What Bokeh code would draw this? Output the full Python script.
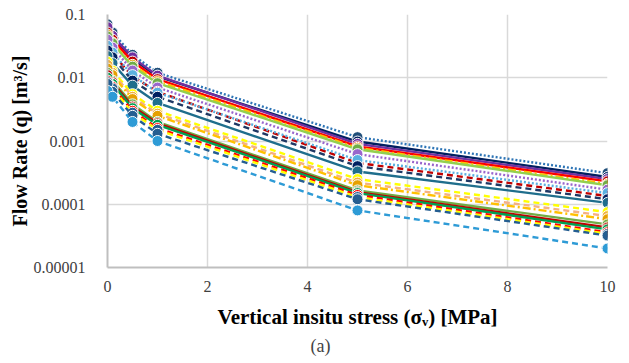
from bokeh.plotting import figure
from bokeh.models import FixedTicker, Title
from bokeh.embed import file_html
from bokeh.resources import INLINE

# ---- data ----
stress_mpa = [0, 0.1, 0.5, 1, 5, 10]
q_s01 = [0.070, 0.052, 0.023, 0.0120, 0.00115, 0.00031]
q_s02 = [0.060, 0.045, 0.020, 0.0105, 0.00098, 0.00027]
q_s03 = [0.063, 0.046, 0.021, 0.0108, 0.00090, 0.00025]
q_s04 = [0.052, 0.040, 0.018, 0.0095, 0.00082, 0.00023]
q_s05 = [0.048, 0.036, 0.016, 0.0088, 0.00078, 0.00021]
q_s06 = [0.045, 0.035, 0.015, 0.0082, 0.00074, 0.00020]
q_s07 = [0.040, 0.030, 0.013, 0.0070, 0.00062, 0.00017]
q_s08 = [0.030, 0.024, 0.0105, 0.0060, 0.00045, 0.000135]
q_s09 = [0.032, 0.025, 0.011, 0.0058, 0.00050, 0.00015]
q_s10 = [0.027, 0.021, 0.009, 0.0050, 0.00040, 0.00012]
q_s11 = [0.022, 0.017, 0.0075, 0.0040, 0.00033, 0.000105]
q_s12 = [0.018, 0.013, 0.0055, 0.0030, 0.00025, 0.000075]
q_s13 = [0.016, 0.012, 0.0050, 0.0027, 0.00022, 0.000065]
q_s14 = [0.014, 0.011, 0.0046, 0.0025, 0.00020, 0.000058]
q_s15 = [0.012, 0.009, 0.0038, 0.0020, 0.000165, 0.000048]
q_s16 = [0.011, 0.0085, 0.0035, 0.0019, 0.000155, 0.000043]
q_s17 = [0.010, 0.0080, 0.0033, 0.0018, 0.000150, 0.000040]
q_s18 = [0.009, 0.0072, 0.0030, 0.0016, 0.000140, 0.000036]
q_s19 = [0.0085, 0.0068, 0.0028, 0.0015, 0.000130, 0.000034]
q_s20 = [0.0080, 0.0060, 0.0025, 0.0013, 0.000120, 0.000032]
q_s21 = [0.0062, 0.0050, 0.0020, 0.0010, 0.000080, 0.000020]

y_ticks = [0.1, 0.01, 0.001, 0.0001, 0.00001]
y_tick_labels = ["0.1", "0.01", "0.001", "0.0001", "0.00001"]
x_ticks = [0, 2, 4, 6, 8, 10]

series = [q_s01, q_s02, q_s03, q_s04, q_s05, q_s06, q_s07, q_s08, q_s09, q_s10,
          q_s11, q_s12, q_s13, q_s14, q_s15, q_s16, q_s17, q_s18, q_s19, q_s20, q_s21]

# ---- styles ----
line_colors = ["#2E75B6", "#002060", "#7030A0", "#FF0000", "#FFC000", "#92D050",
               "#9966CC", "#C00000", "#5BB0E0", "#1F3864", "#1F6E8C", "#FFFF00",
               "#F4B183", "#FFC000", "#70AD47", "#C00000", "#00A050", "#FF0000",
               "#FFFF00", "#255E91", "#2E9BD6"]
marker_colors = ["#1F4E79", "#002060", "#7030A0", "#C00000", "#E6A000", "#70AD47",
                 "#9966CC", "#C00000", "#5BB0E0", "#002060", "#1F6E8C", "#FFFF00",
                 "#F0B040", "#E6A000", "#70AD47", "#C00000", "#00A050", "#FF0000",
                 "#255E91", "#255E91", "#2E9BD6"]
dashes = ["2 2", "solid", "solid", "solid", "8 3 2 3", "solid",
          "2 2", "6 4", "2 2", "6 4", "solid", "6 4",
          "6 4", "8 3 2 3", "solid", "solid", "solid", "6 4",
          "6 4", "6 4", "6 4"]

FONT = "Liberation Serif"

p = figure(width=629, height=363, output_backend="svg", toolbar_location=None,
           y_axis_type="log", x_range=(0, 10), y_range=(1e-5, 0.1),
           min_border_left=107, min_border_right=22, min_border_top=14,
           min_border_bottom=96, outline_line_color=None)

for s, lc, mc, d in zip(series, line_colors, marker_colors, dashes):
    p.line(stress_mpa, s, line_color=lc, line_width=2.4, line_dash=d)
    p.scatter(stress_mpa, s, size=11, fill_color=mc, line_color="white", line_width=1)

p.xaxis.ticker = FixedTicker(ticks=x_ticks)
p.yaxis.ticker = FixedTicker(ticks=y_ticks)
p.yaxis.major_label_overrides = {t: l for t, l in zip(y_ticks, y_tick_labels)}
p.yaxis.minor_tick_line_color = None
p.xaxis.minor_tick_line_color = None

for ax in (p.xaxis[0], p.yaxis[0]):
    ax.major_tick_line_color = None
    ax.axis_line_color = "#BFBFBF"
    ax.axis_line_width = 2
    ax.major_label_text_font = FONT
    ax.major_label_text_font_size = "16px"
    ax.major_label_text_color = "#404040"
    ax.axis_label_text_font = FONT
    ax.axis_label_text_font_style = "bold"
    ax.axis_label_text_color = "black"

p.xaxis.axis_label = "Vertical insitu stress (σᵥ) [MPa]"
p.yaxis.axis_label = "Flow Rate (q) [m³/s]"
p.xaxis.axis_label_text_font_size = "21px"
p.yaxis.axis_label_text_font_size = "20px"
p.xaxis.major_label_standoff = 7
p.yaxis.major_label_standoff = 16
p.xaxis.axis_label_standoff = 10
p.yaxis.axis_label_standoff = 0

p.xgrid.ticker = FixedTicker(ticks=x_ticks)
p.ygrid.ticker = FixedTicker(ticks=y_ticks)
p.grid.grid_line_color = "#D9D9D9"
p.grid.grid_line_width = 1.5

p.add_layout(Title(text="(a)", align="left", offset=203, text_font=FONT,
                   text_font_size="18px", text_font_style="normal",
                   standoff=4), "below")

p.background_fill_color = "white"
p.border_fill_color = "white"

open("out.html", "w").write(file_html(p, INLINE))
